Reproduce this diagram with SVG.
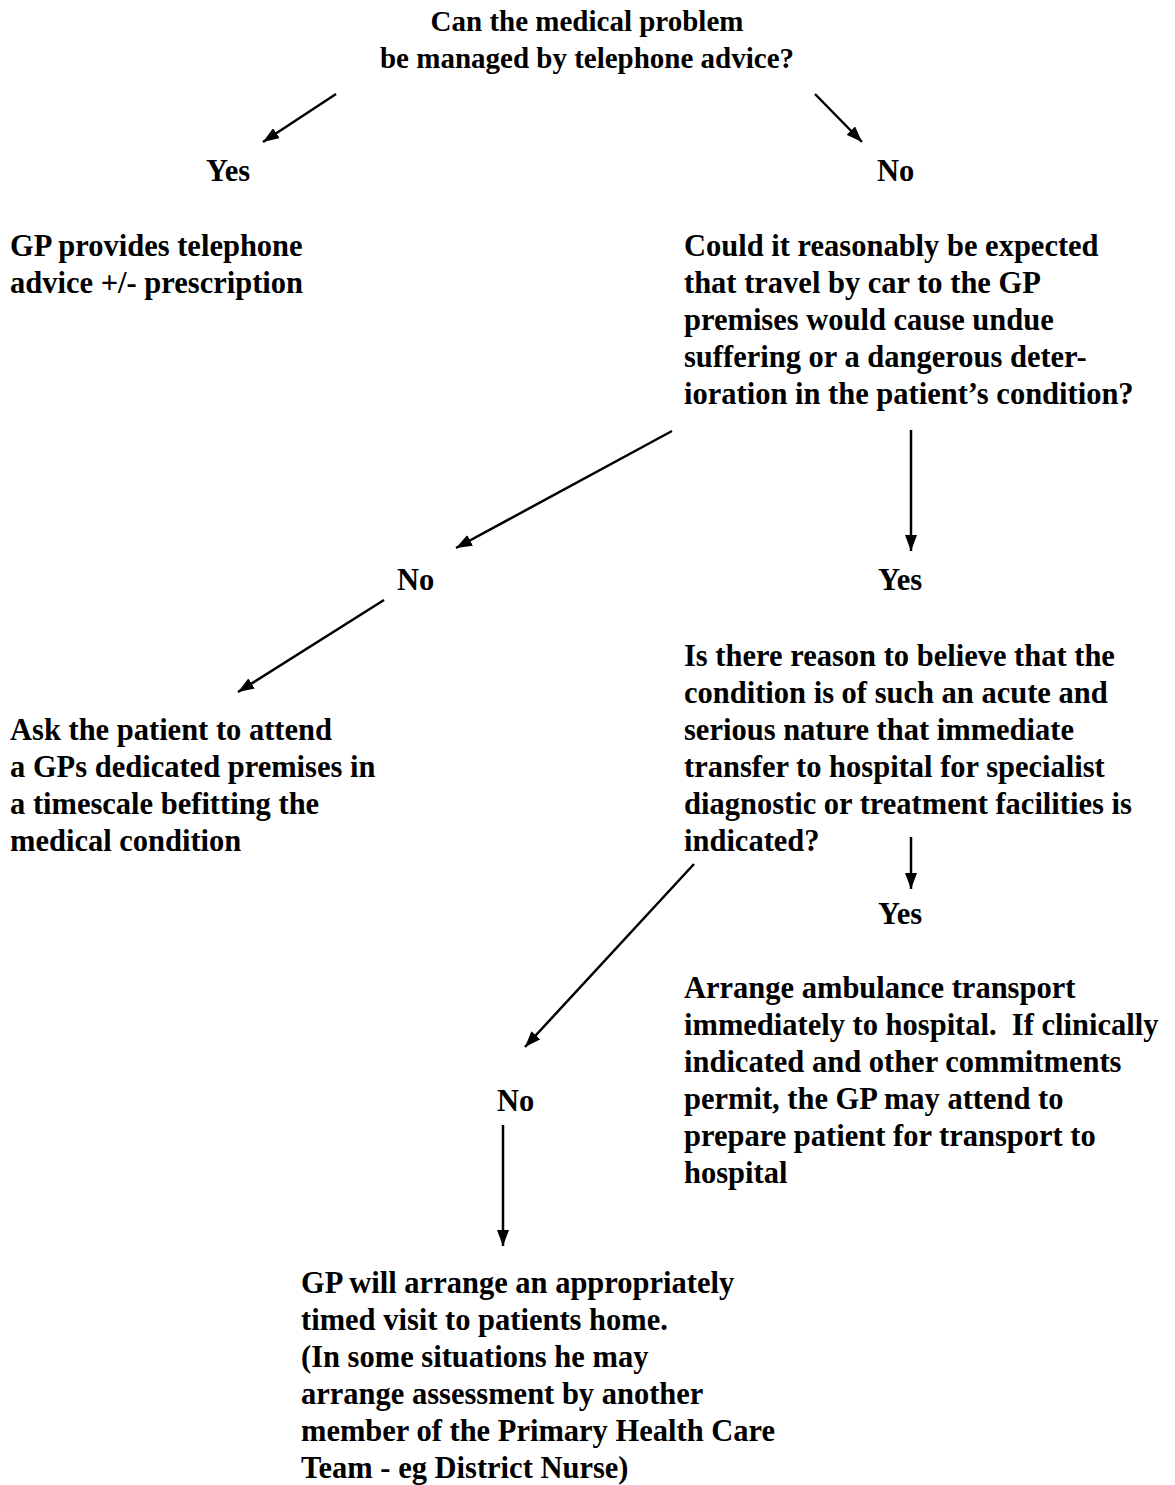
<svg xmlns="http://www.w3.org/2000/svg" width="1175" height="1485" viewBox="0 0 1175 1485">
<defs>
<style>
text{font-family:"Liberation Serif","Times New Roman",serif;font-weight:bold;font-size:30.5px;fill:#000}
.t{font-size:29px}
.c{stroke:#000;stroke-width:2.5;fill:none}
</style>
<marker id="ah" viewBox="0 0 16 12" refX="16" refY="6" markerWidth="16" markerHeight="12" markerUnits="userSpaceOnUse" orient="auto">
<path d="M0,0 L16,6 L0,12 z" fill="#000"/>
</marker>
</defs>
<rect width="1175" height="1485" fill="#fff"/>
<g id="q1"><text class="t" x="587" y="31" text-anchor="middle">Can the medical problem</text><text class="t" x="587" y="68" text-anchor="middle">be managed by telephone advice?</text></g>
<g id="yes1"><text x="206" y="181">Yes</text></g>
<g id="no1"><text x="877" y="181">No</text></g>
<g id="advice"><text x="10" y="256">GP provides telephone</text><text x="10" y="293">advice +/- prescription</text></g>
<g id="q2"><text x="684" y="256">Could it reasonably be expected</text><text x="684" y="293">that travel by car to the GP</text><text x="684" y="330">premises would cause undue</text><text x="684" y="367">suffering or a dangerous deter-</text><text x="684" y="404">ioration in the patient’s condition?</text></g>
<g id="no2"><text x="397" y="590">No</text></g>
<g id="yes2"><text x="878" y="590">Yes</text></g>
<g id="q3"><text x="684" y="666">Is there reason to believe that the</text><text x="684" y="703">condition is of such an acute and</text><text x="684" y="740">serious nature that immediate</text><text x="684" y="777">transfer to hospital for specialist</text><text x="684" y="814">diagnostic or treatment facilities is</text><text x="684" y="851">indicated?</text></g>
<g id="attend"><text x="10" y="740">Ask the patient to attend</text><text x="10" y="777">a GPs dedicated premises in</text><text x="10" y="814">a timescale befitting the</text><text x="10" y="851">medical condition</text></g>
<g id="yes3"><text x="878" y="924">Yes</text></g>
<g id="ambulance"><text x="684" y="998">Arrange ambulance transport</text><text x="684" y="1035" xml:space="preserve">immediately to hospital.  If clinically</text><text x="684" y="1072">indicated and other commitments</text><text x="684" y="1109">permit, the GP may attend to</text><text x="684" y="1146">prepare patient for transport to</text><text x="684" y="1183">hospital</text></g>
<g id="no3"><text x="497" y="1111">No</text></g>
<g id="visit"><text x="301" y="1293">GP will arrange an appropriately</text><text x="301" y="1330">timed visit to patients home.</text><text x="301" y="1367">(In some situations he may</text><text x="301" y="1404">arrange assessment by another</text><text x="301" y="1441">member of the Primary Health Care</text><text x="301" y="1478">Team - eg District Nurse)</text></g>
<g id="connectors">
<line class="c" x1="336" y1="94" x2="263" y2="142" marker-end="url(#ah)"/>
<line class="c" x1="815" y1="94" x2="862" y2="142" marker-end="url(#ah)"/>
<line class="c" x1="672" y1="431" x2="456" y2="548" marker-end="url(#ah)"/>
<line class="c" x1="911" y1="430" x2="911" y2="551" marker-end="url(#ah)"/>
<line class="c" x1="384" y1="600" x2="238" y2="692" marker-end="url(#ah)"/>
<line class="c" x1="911" y1="837" x2="911" y2="889" marker-end="url(#ah)"/>
<line class="c" x1="694" y1="864" x2="525" y2="1047" marker-end="url(#ah)"/>
<line class="c" x1="503" y1="1125" x2="503" y2="1246" marker-end="url(#ah)"/>
</g>
</svg>
